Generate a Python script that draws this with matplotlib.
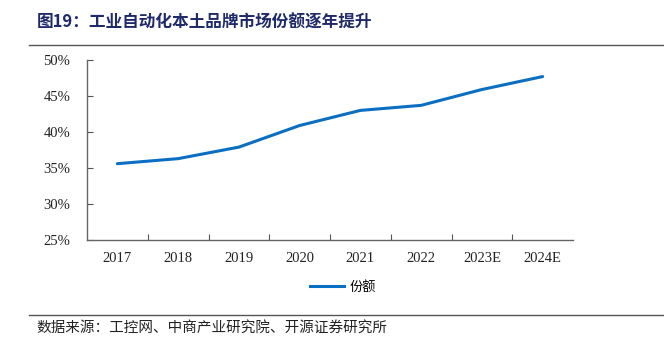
import matplotlib
matplotlib.use("Agg")
import matplotlib.pyplot as plt
from matplotlib.lines import Line2D
from matplotlib.ticker import FuncFormatter

categories = ["2017", "2018", "2019", "2020", "2021", "2022", "2023E", "2024E"]
share = [35.6, 36.3, 37.9, 40.9, 43.0, 43.7, 45.9, 47.7]
yticks = [25, 30, 35, 40, 45, 50]

cjk = ["Noto Sans CJK SC", "DejaVu Sans"]
serif = ["Liberation Serif", "DejaVu Serif"]

fig = plt.figure(figsize=(6.64, 3.47), dpi=100)
ax = fig.add_axes([87/664, 1-240/347, (573-87)/664, (240-60)/347])

x = list(range(len(categories)))
ax.plot(x, share, color="#0A6FC2", linewidth=2.2, label="份额", solid_capstyle="round")

ax.set_xlim(-0.5, len(categories)-0.5)
ax.set_ylim(25, 50)
ax.set_yticks(yticks)
ax.yaxis.set_major_formatter(FuncFormatter(lambda v, p: f"{v:.0f}%"))
ax.set_xticks([i + 0.5 for i in range(len(categories)-1)], minor=False)
ax.set_xticklabels([])
ax.set_xticks(x, minor=True)
ax.set_xticklabels(categories, minor=True)
ax.tick_params(axis="x", which="major", direction="in", length=4, color="#555555")
ax.tick_params(axis="x", which="minor", length=0, pad=9)
ax.tick_params(axis="y", direction="in", length=4, color="#555555", pad=12)
for lab in ax.get_xticklabels(minor=True) + ax.get_yticklabels():
    lab.set_fontfamily(serif)
    lab.set_fontsize(10.5)
    lab.set_color("#222222")

for s in ["top", "right"]:
    ax.spines[s].set_visible(False)
for s in ["left", "bottom"]:
    ax.spines[s].set_color("#666666")
    ax.spines[s].set_linewidth(1.0)

leg = fig.legend(handles=[Line2D([0], [0], color="#0A6FC2", lw=2.2)], labels=["份额"],
                 loc="center", bbox_to_anchor=(343/664, 1-287/347), frameon=False,
                 prop={"family": cjk, "size": 9.5}, handlelength=2.6, handletextpad=0.4)

fig.text(37/664, 1-23/347, "图19：工业自动化本土品牌市场份额逐年提升", fontfamily=cjk,
         fontsize=12, fontweight="bold", color="#1F2A6B", va="center", ha="left")
fig.add_artist(Line2D([29/664, 1.0], [1-45/347, 1-45/347], color="#555555", lw=1.0))
fig.add_artist(Line2D([29/664, 1.0], [1-315/347, 1-315/347], color="#555555", lw=1.0))
fig.text(36/664, 1-328/347, "数据来源：工控网、中商产业研究院、开源证券研究所", fontfamily=cjk,
         fontsize=10.5, color="#222222", va="center", ha="left")

fig.savefig("out.png", dpi=100)
